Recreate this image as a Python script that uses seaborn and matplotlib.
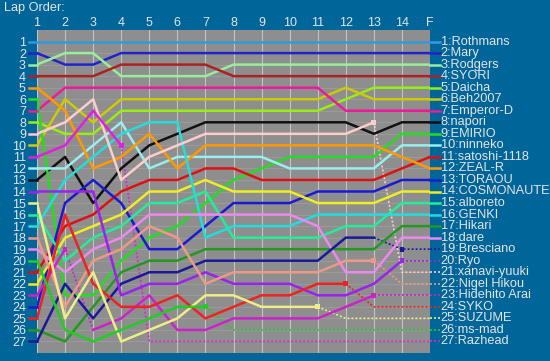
import pandas as pd
import numpy as np
import seaborn as sns
import matplotlib.pyplot as plt

# lap order chart
lap_labels = ["1", "2", "3", "4", "5", "6", "7", "8", "9", "10", "11", "12", "13", "14", "F"]

# position of each driver at every lap (1..14, F)
rothmans   = [1, 1, 1, 1, 1, 1, 1, 1, 1, 1, 1, 1, 1, 1, 1]
mary       = [2, 3, 3, 2, 2, 2, 2, 2, 2, 2, 2, 2, 2, 2, 2]
rodgers    = [3, 2, 2, 4, 4, 4, 4, 3, 3, 3, 3, 3, 3, 3, 3]
syori      = [4, 4, 4, 3, 3, 3, 3, 4, 4, 4, 4, 4, 4, 4, 4]
daicha     = [8, 9, 9, 7, 7, 7, 7, 7, 7, 7, 7, 6, 5, 5, 5]
beh2007    = [10, 6, 8, 6, 6, 6, 6, 6, 6, 6, 6, 5, 6, 6, 6]
emperor_d  = [7, 5, 5, 5, 5, 5, 5, 5, 5, 5, 5, 7, 7, 7, 7]
napori     = [13, 11, 15, 12, 10, 9, 8, 8, 8, 8, 8, 8, 9, 8, 8]
emirio     = [6, 23, 23, 20, 18, 17, 15, 13, 12, 11, 11, 11, 11, 9, 9]
ninneko    = [12, 12, 10, 8, 12, 11, 11, 11, 11, 12, 12, 12, 12, 10, 10]
satoshi    = [21, 17, 16, 14, 13, 13, 12, 12, 13, 13, 13, 13, 13, 12, 11]
zeal_r     = [5, 7, 12, 11, 9, 12, 10, 10, 10, 10, 10, 10, 10, 11, 12]
toraou     = [24, 15, 13, 15, 19, 19, 17, 15, 15, 15, 14, 14, 14, 13, 13]
cosmonaute = [22, 18, 17, 16, 14, 14, 13, 14, 14, 14, 15, 15, 15, 14, 14]
alboreto   = [16, 20, 18, 17, 15, 15, 14, 18, 18, 18, 18, 17, 17, 15, 15]
genki      = [17, 13, 11, 9, 8, 8, 18, 17, 17, 17, 16, 16, 16, 16, 16]
hikari     = [26, 27, 24, 21, 20, 20, 19, 19, 19, 19, 19, 19, 19, 17, 17]
dare       = [19, 21, 19, 18, 16, 16, 16, 16, 16, 16, 17, 21, 21, 18, 18]
bresciano  = [27, 22, 25, 22, 21, 21, 20, 20, 20, 20, 20, 18, 18, 19, 19]
ryo        = [14, 14, 14, 23, 22, 22, 21, 22, 22, 22, 23, 23, 22, 20, 20]
xanavi     = [9, 8, 6, 13, 11, 10, 9, 9, 9, 9, 9, 9, 8, 21, 21]
nigel      = [18, 24, 20, 19, 17, 18, 22, 21, 21, 21, 21, 20, 20, 22, 22]
hidehito   = [23, 19, 26, 25, 23, 26, 26, 25, 25, 25, 25, 24, 23, 23, 23]
syko       = [25, 16, 22, 24, 24, 23, 25, 24, 23, 23, 22, 22, 24, 24, 24]
suzume     = [15, 25, 21, 27, 26, 25, 23, 23, 24, 24, 24, 25, 25, 25, 25]
ms_mad     = [20, 26, 27, 26, 25, 24, 24, 26, 26, 26, 26, 26, 26, 26, 26]
razhead    = [11, 10, 7, 10, 27, 27, 27, 27, 27, 27, 27, 27, 27, 27, 27]

names = ["Rothmans", "Mary", "Rodgers", "SYORI", "Daicha", "Beh2007", "Emperor-D",
         "napori", "EMIRIO", "ninneko", "satoshi-1118", "ZEAL-R", "TORAOU",
         "COSMONAUTE", "alboreto", "GENKI", "Hikari", "dare", "Bresciano", "Ryo",
         "xanavi-yuuki", "Nigel Hikou", "Hidehito Arai", "SYKO", "SUZUME", "ms-mad",
         "Razhead"]
positions = [rothmans, mary, rodgers, syori, daicha, beh2007, emperor_d, napori,
             emirio, ninneko, satoshi, zeal_r, toraou, cosmonaute, alboreto, genki,
             hikari, dare, bresciano, ryo, xanavi, nigel, hidehito, syko, suzume,
             ms_mad, razhead]
colors = ["#3399dd", "#2222cc", "#99ee99", "#aa2222", "#99ee11", "#cccc00", "#ee1a9a",
          "#111111", "#22dd22", "#99eeee", "#dd1111", "#ff9900", "#1a1ad0",
          "#eeee22", "#22ee99", "#22dddd", "#229922", "#ee88ee", "#1a1a99", "#9922ee",
          "#ffcccc", "#ee9988", "#cc22cc", "#ee2222", "#eeee88", "#22cc22", "#dd22dd"]

# retirements: last solid lap, then dotted to the flag
retired_after = {"Razhead": 4, "ms-mad": 7, "SUZUME": 11, "SYKO": 12,
                 "xanavi-yuuki": 13, "Nigel Hikou": 13, "Hidehito Arai": 13,
                 "Bresciano": 13, "Ryo": 14}
marker_laps = {"Razhead": [4], "ms-mad": [7], "SUZUME": [11], "SYKO": [12],
               "xanavi-yuuki": [13], "Nigel Hikou": [13], "Hidehito Arai": [2, 13],
               "Bresciano": [14], "Ryo": [14]}
extra_dotted = {"Hidehito Arai": (2, 3)}

rows = []
for name, pos in zip(names, positions):
    last = retired_after.get(name, 15)
    gap = extra_dotted.get(name)
    pieces = []
    if gap:
        pieces.append(("solid", 1, gap[0]))
        pieces.append(("dotted", gap[0], gap[1]))
        pieces.append(("solid", gap[1], last))
    else:
        pieces.append(("solid", 1, last))
    if last < 15:
        pieces.append(("dotted", last, 15))
    for k, (kind, a, b) in enumerate(pieces):
        for lap in range(a, b + 1):
            rows.append({"driver": name, "lap": lap, "pos": pos[lap - 1],
                         "kind": kind, "seg": f"{name}_{k}"})
df = pd.DataFrame(rows)

mrows = []
for name, lst in marker_laps.items():
    pos = positions[names.index(name)]
    for lap in lst:
        mrows.append({"driver": name, "lap": lap, "pos": pos[lap - 1]})
mdf = pd.DataFrame(mrows)

pal = dict(zip(names, colors))
bg = "#006699"
txt = "#e4e4e4"

fig = plt.figure(figsize=(5.5, 3.61), dpi=100, facecolor=bg)
ax = fig.add_axes([37 / 550, 8 / 361, 393 / 550, 323 / 361])
ax.set_facecolor("#8e8e8e")

ax.set_xlim(1, 15)
ax.set_ylim(28, 0)
ax.set_xticks(range(1, 16))
ax.set_yticks(range(1, 28))
ax.grid(True, axis="x", color="#c4c4c4", lw=0.8)
ax.grid(True, axis="y", color="#a0a0a0", lw=0.5)
ax.set_axisbelow(True)
for s in ax.spines.values():
    s.set_visible(False)
ax.xaxis.tick_top()
ax.set_xticklabels(lap_labels)
ax.tick_params(axis="x", length=0, pad=0.5, labelsize=9, labelcolor=txt)
ax.tick_params(axis="y", length=0, pad=8, labelsize=9, labelcolor=txt)
for t in ax.get_xticklabels() + ax.get_yticklabels():
    t.set_fontfamily("Liberation Sans")

solid = df[df["kind"] == "solid"]
dotted = df[df["kind"] == "dotted"]
sns.lineplot(data=dotted, x="lap", y="pos", hue="driver", units="seg", estimator=None,
             palette=pal, lw=1.2, linestyle=(0, (1.2, 1.2)), legend=False, sort=False, ax=ax)
sns.lineplot(data=solid, x="lap", y="pos", hue="driver", units="seg", estimator=None,
             palette=pal, lw=1.8, legend=False, sort=False, ax=ax)
sns.scatterplot(data=mdf, x="lap", y="pos", hue="driver", palette=pal, marker="s",
                s=12, linewidth=0, legend=False, ax=ax)

# short leaders on both sides plus the final order names
for name, pos, c in zip(names, positions, colors):
    ax.plot([0.71, 1], [pos[0], pos[0]], color=c, lw=1.8, clip_on=False)
    ls = (0, (1.2, 1.2)) if name in retired_after else "-"
    ax.plot([15, 15.36], [pos[-1], pos[-1]], color=c, lw=1.2 if name in retired_after else 1.8,
            ls=ls, clip_on=False)
    ax.text(15.38, pos[-1], f"{pos[-1]}:{name}", color=txt, fontsize=9.2,
            family="Liberation Sans", va="center", ha="left", clip_on=False)

ax.set_xlabel("")
ax.set_ylabel("")
fig.text(4 / 550, 1 - 8 / 361, "Lap Order:", color=txt, fontsize=9.2,
         family="Liberation Sans", va="center", ha="left")

fig.savefig("out.png", dpi=100, facecolor=bg)
